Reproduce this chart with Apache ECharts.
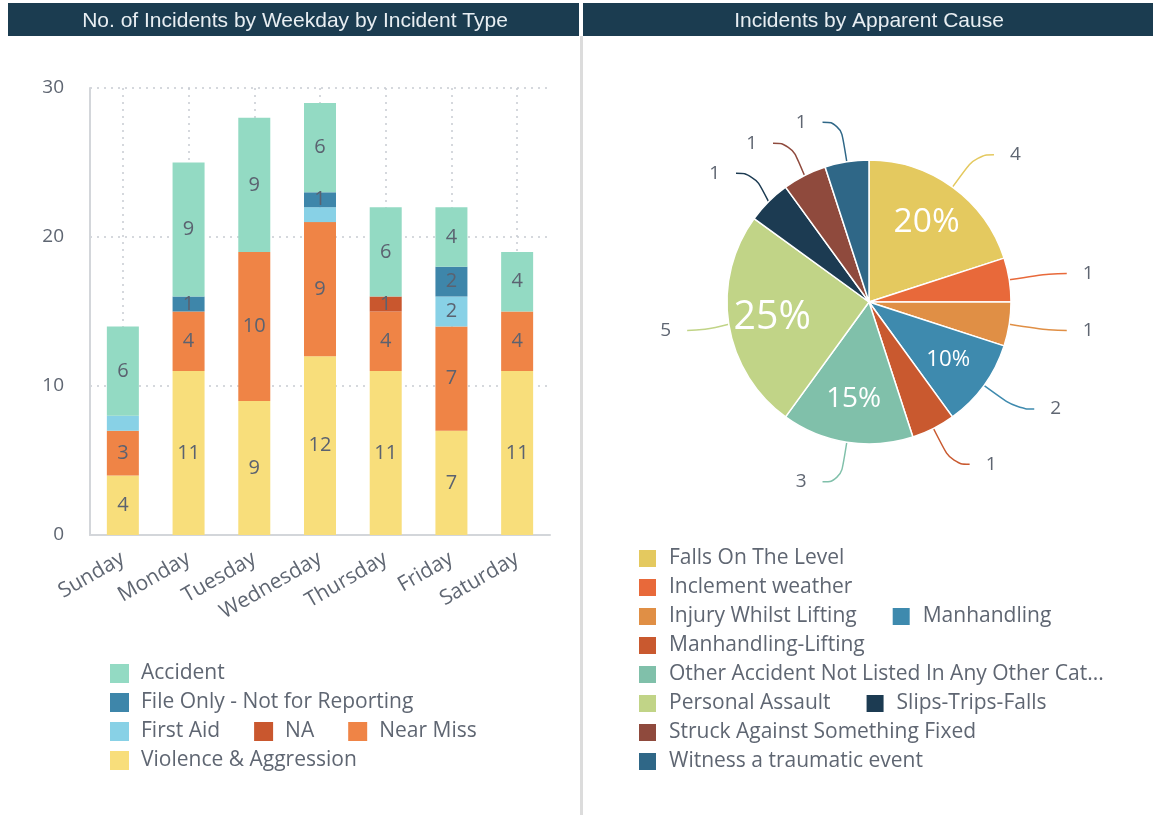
<!DOCTYPE html>
<html>
<head>
<meta charset="utf-8">
<script src="https://cdn.jsdelivr.net/npm/echarts@6/dist/echarts.min.js"></script>
<style>
  html, body { margin: 0; padding: 0; background: #fff; }
  #main { width: 1153px; height: 815px; }
</style>
</head>
<body>
<div id="main"></div>
<script>
// bar chart data (stack order bottom -> top)
var weekdays = ['Sunday', 'Monday', 'Tuesday', 'Wednesday', 'Thursday', 'Friday', 'Saturday'];
var violence = [4, 11, 9, 12, 11, 7, 11];
var nearMiss = [3, 4, 10, 9, 4, 7, 4];
var naType   = [0, 0, 0, 0, 1, 0, 0];
var firstAid = [1, 0, 0, 1, 0, 2, 0];
var fileOnly = [0, 1, 0, 1, 0, 2, 0];
var accident = [6, 9, 9, 6, 6, 4, 4];
var incidentTypes = ['Accident', 'File Only - Not for Reporting', 'First Aid', 'NA', 'Near Miss', 'Violence & Aggression'];

// pie data
var causes = ['Falls On The Level', 'Inclement weather', 'Injury Whilst Lifting', 'Manhandling',
  'Manhandling-Lifting', 'Other Accident Not Listed In Any Other Category', 'Personal Assault',
  'Slips-Trips-Falls', 'Struck Against Something Fixed', 'Witness a traumatic event'];
var causeCounts = [4, 1, 1, 2, 1, 3, 5, 1, 1, 1];
var causeColors = ['#e4c95f', '#e8693a', '#e08f45', '#3e8aae', '#c9592f', '#80c0aa', '#c1d487', '#1c3b52', '#8f4a3d', '#2f6787'];

var chart = echarts.init(document.getElementById('main'));

var grey = '#5f6672';
var total = causeCounts.reduce(function (a, b) { return a + b; }, 0);

var pieData = causes.map(function (n, i) {
  return { name: n, value: causeCounts[i], itemStyle: { color: causeColors[i] } };
});
var pctData = causes.map(function (n, i) {
  var pct = causeCounts[i] / total * 100;
  return { name: n, value: causeCounts[i], label: { fontSize: 11 + 1.13 * pct } };
});

function barSeries(name, data, color) {
  return {
    name: name,
    type: 'bar',
    stack: 'all',
    barWidth: 32,
    data: data,
    itemStyle: { color: color },
    label: {
      show: true,
      position: 'inside',
      color: '#5b6270',
      fontSize: 20,
      formatter: function (p) {
        if (!p.value) return '';
        if (p.seriesName === 'First Aid' && p.value < 2) return '';
        return p.value;
      }
    }
  };
}

var legendText = {
  fontSize: 21,
  lineHeight: 20,
  color: grey,
  padding: [0, 26, 0, 7],
  backgroundColor: 'rgba(0,0,0,0)'
};

var option = {
  textStyle: { fontFamily: 'Open Sans' },
  animation: false,
  graphic: [
    { type: 'rect', shape: { x: 8, y: 3, width: 571, height: 33 }, style: { fill: '#1b3c50' } },
    { type: 'rect', shape: { x: 583, y: 3, width: 570, height: 33 }, style: { fill: '#1b3c50' } },
    { type: 'rect', shape: { x: 580, y: 36, width: 3, height: 779 }, style: { fill: '#dcdcdc' } },
    { type: 'text', x: 295, y: 21, style: { text: 'No. of Incidents by Weekday by Incident Type', fill: '#e8eef2',
      fontSize: 21, fontFamily: 'Liberation Sans', align: 'center', verticalAlign: 'middle' } },
    { type: 'text', x: 869, y: 21, style: { text: 'Incidents by Apparent Cause', fill: '#e8eef2',
      fontSize: 21, fontFamily: 'Liberation Sans', align: 'center', verticalAlign: 'middle' } }
  ],
  legend: [{
    data: incidentTypes,
    left: 110, top: 663, width: 440,
    padding: 0,
    icon: 'rect',
    itemWidth: 19, itemHeight: 19,
    itemGap: 8,
    textStyle: legendText
  }, {
    data: causes,
    left: 637, top: 548, width: 475,
    padding: 0,
    icon: 'rect',
    itemWidth: 19, itemHeight: 19,
    itemGap: 8,
    textStyle: legendText,
    formatter: function (n) {
      return n.length > 45 ? n.slice(0, 42) + '...' : n;
    }
  }],
  grid: { left: 90, right: 603, top: 88, bottom: 280 },
  xAxis: {
    type: 'category',
    data: weekdays,
    axisLine: { lineStyle: { color: '#d3d6da', width: 2 } },
    axisTick: { show: false },
    axisLabel: { rotate: 30, fontSize: 21, color: grey, margin: 22 },
    splitLine: { show: true, alignWithLabel: true, lineStyle: { color: '#c8ccd2', type: [2, 5], width: 1.5 } }
  },
  yAxis: {
    type: 'value',
    min: 0, max: 30, interval: 10,
    axisLine: { show: true, lineStyle: { color: '#d3d6da', width: 2 } },
    axisLabel: { fontSize: 19, color: grey, margin: 26 },
    splitLine: { lineStyle: { color: '#c8ccd2', type: [2, 5], width: 1.5 } }
  },
  series: [
    barSeries('Violence & Aggression', violence, '#f8de7b'),
    barSeries('Near Miss', nearMiss, '#ef8446'),
    barSeries('NA', naType, '#c9572e'),
    barSeries('First Aid', firstAid, '#88d1e6'),
    barSeries('File Only - Not for Reporting', fileOnly, '#3e86aa'),
    barSeries('Accident', accident, '#93dac3'),
    {
      name: 'Apparent Cause',
      type: 'pie',
      center: [869, 302],
      radius: 142,
      startAngle: 90,
      clockwise: true,
      data: pieData,
      itemStyle: { borderColor: '#fff', borderWidth: 1.5 },
      label: { show: true, position: 'outside', formatter: '{c}', fontSize: 19, color: grey, distanceToLabelLine: 16 },
      labelLine: { show: true, length: 40, length2: 18, smooth: 0.5, lineStyle: { width: 1.5 } }
    },
    {
      name: 'Cause percent',
      type: 'pie',
      center: [869, 302],
      radius: 190,
      startAngle: 90,
      clockwise: true,
      silent: true,
      data: pctData,
      itemStyle: { color: 'rgba(0,0,0,0)' },
      label: {
        show: true,
        position: 'inside',
        color: '#fff',
        formatter: function (p) {
          return p.percent >= 10 ? Math.round(p.percent) + '%' : '';
        }
      },
      labelLine: { show: false }
    }
  ]
};

chart.setOption(option);
</script>
</body>
</html>
